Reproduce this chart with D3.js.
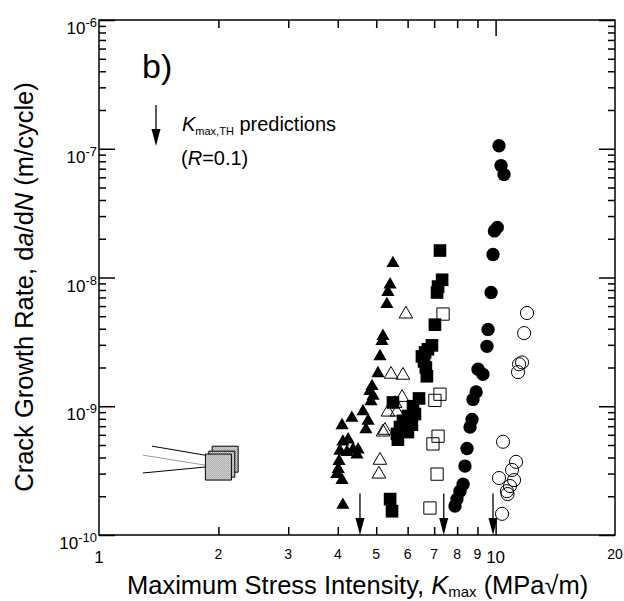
<!DOCTYPE html>
<html lang="en">
<head>
<meta charset="utf-8">
<title>Crack growth rate vs Kmax</title>
<script src="https://d3js.org/d3.v7.min.js"></script>
<style>
  body { margin: 0; background: #fff; }
  svg { display: block; font-family: Arial, "Liberation Sans", sans-serif; }
</style>
</head>
<body>
<svg width="624" height="601"></svg>
<script>
// data: [Kmax (MPa√m), da/dN (m/cycle)]
const filledTriangles = [
  [5.51,1.29e-8],[5.42,8.8e-9],[5.35,7.7e-9],[5.32,6.2e-9],[5.20,3.5e-9],[5.17,3.2e-9],
  [5.11,2.44e-9],[5.05,1.80e-9],[4.88,1.43e-9],[4.82,1.31e-9],[4.91,1.20e-9],[4.85,1.09e-9],
  [4.63,9.1e-10],[4.34,8.1e-10],[4.10,7.1e-10],[4.77,7.7e-10],[4.71,6.6e-10],[4.25,5.5e-10],
  [4.12,5.3e-10],[4.05,4.5e-10],[4.37,4.6e-10],[4.50,4.6e-10],[4.47,4.2e-10],[4.22,4.4e-10],
  [4.03,3.75e-10],[4.01,3.25e-10],[3.98,2.97e-10],[4.10,2.67e-10],[4.12,1.71e-10]
];
const openTriangles = [
  [5.94,5.2e-9],[5.45,1.77e-9],[5.84,1.74e-9],[5.81,1.17e-9],[5.58,1.05e-9],[5.35,9.0e-10],
  [5.64,9.0e-10],[5.20,6.3e-10],[5.26,6.5e-10],[5.11,3.8e-10],[5.08,2.97e-10]
];
const filledSquares = [
  [7.24,1.62e-8],[7.33,9.6e-9],[7.16,8.5e-9],[7.12,7.65e-9],[7.03,4.3e-9],[6.91,2.97e-9],
  [6.75,2.77e-9],[6.64,2.62e-9],[6.52,2.44e-9],[6.60,2.23e-9],[6.67,2.0e-9],[6.71,1.71e-9],
  [6.41,1.15e-9],[6.19,1.0e-9],[5.51,1.07e-9],[6.26,8.7e-10],[6.01,8.4e-10],[5.84,7.7e-10],
  [5.74,6.9e-10],[5.64,6.1e-10],[6.01,6.3e-10],[5.67,5.5e-10],[6.15,7.2e-10],
  [5.42,1.90e-10],[5.48,1.53e-10]
];
const openSquares = [
  [7.37,5.2e-9],[7.24,1.24e-9],[7.03,1.11e-9],[7.16,5.85e-10],[6.95,5.1e-10],
  [7.12,2.97e-10],[6.83,1.62e-10]
];
const filledCircles = [
  [10.20,1.055e-7],[10.32,7.4e-8],[10.50,6.3e-8],[9.93,2.3e-8],[10.10,2.45e-8],[9.85,1.51e-8],
  [9.74,7.65e-9],[9.57,3.95e-9],[9.51,2.92e-9],[9.03,1.94e-9],[9.29,1.77e-9],[8.93,1.29e-9],
  [8.77,1.13e-9],[8.72,7.9e-10],[8.62,6.9e-10],[8.47,4.7e-10],[8.37,3.43e-10],[8.28,2.48e-10],
  [8.13,2.19e-10],[7.99,1.90e-10],[7.90,1.68e-10]
];
const openCircles = [
  [12.0,5.3e-9],[11.8,3.7e-9],[11.66,2.19e-9],[11.46,2.12e-9],[11.39,1.84e-9],[10.44,5.3e-10],
  [11.26,3.7e-10],[11.0,3.2e-10],[11.13,2.67e-10],[10.2,2.77e-10],[10.87,2.4e-10],
  [10.68,2.19e-10],[10.72,2.08e-10],[10.38,1.46e-10]
];
// small-crack data near K = 2 (back to front)
const graySquares = [[2.08,3.88e-10],[2.04,3.55e-10],[2.00,3.37e-10]];
const smallCrackLines = [
  [[1.36,4.9e-10],[1.85,4.17e-10]],
  [[1.29,4.17e-10],[1.85,3.49e-10]],
  [[1.29,3.03e-10],[1.85,3.37e-10]]
];
// Kmax,TH predictions (arrows)
const thresholdK = [4.55, 7.4, 9.85];

const xTickLabels = [1,2,3,4,5,6,7,8,9,10,20];
const yTickExps = [-6,-7,-8,-9,-10];

const svg = d3.select("svg");

// halftone fill for the gray squares
const pat = svg.append("defs").append("pattern")
   .attr("id", "halftone").attr("patternUnits", "userSpaceOnUse")
   .attr("width", 2).attr("height", 2);
pat.append("rect").attr("width", 2).attr("height", 2).attr("fill", "#eee");
pat.append("rect").attr("width", 1).attr("height", 1).attr("fill", "#888");
pat.append("rect").attr("x", 1).attr("y", 1).attr("width", 1).attr("height", 1).attr("fill", "#999");

const x = d3.scaleLog().domain([1, 20]).range([99, 615]);
const y = d3.scaleLog().domain([1e-10, 1e-6]).range([535, 20]);

// ticks (all pointing inward)
const xMinor = [2,3,4,5,6,7,8,9];
const xMajor = [10];
const yMajor = yTickExps.map(e => Math.pow(10, e));
const yMinor = [];
for (let e = -10; e < -6; e++) {
  for (let m = 2; m <= 9; m++) yMinor.push(m * Math.pow(10, e));
}

function ticksOnly(g) {
  g.select(".domain").remove();
  g.selectAll("text").remove();
  g.selectAll(".tick line").attr("stroke", "#000").attr("stroke-width", 1.5);
}

function addAxis(axis, tx, ty) {
  svg.append("g").attr("transform", `translate(${tx},${ty})`).call(axis).call(ticksOnly);
}
addAxis(d3.axisBottom(x).tickValues(xMinor).tickSize(-8), 0, 535);
addAxis(d3.axisBottom(x).tickValues(xMajor).tickSize(-16), 0, 535);
addAxis(d3.axisTop(x).tickValues(xMinor).tickSize(-8), 0, 20);
addAxis(d3.axisTop(x).tickValues(xMajor).tickSize(-16), 0, 20);
addAxis(d3.axisLeft(y).tickValues(yMinor).tickSize(-7), 99, 0);
addAxis(d3.axisLeft(y).tickValues(yMajor).tickSize(-16), 99, 0);
addAxis(d3.axisRight(y).tickValues(yMinor).tickSize(-7), 615, 0);
addAxis(d3.axisRight(y).tickValues(yMajor).tickSize(-16), 615, 0);

// frame
svg.append("rect")
   .attr("x", 99).attr("y", 20)
   .attr("width", 615 - 99).attr("height", 535 - 20)
   .attr("fill", "none").attr("stroke", "#000").attr("stroke-width", 1.5);

// tick labels
svg.selectAll(".xlab").data(xTickLabels).enter().append("text")
   .attr("class", "xlab")
   .attr("x", d => x(d))
   .attr("y", d => (d === 1 || d === 10) ? 563 : 559)
   .attr("text-anchor", "middle")
   .attr("font-size", d => (d === 1 || d === 10) ? 17 : 14)
   .text(d => d);

const ylab = svg.selectAll(".ylab").data(yTickExps).enter().append("text")
   .attr("class", "ylab")
   .attr("x", 97)
   .attr("y", d => y(Math.pow(10, d)) + 14)
   .attr("text-anchor", "end")
   .attr("font-size", 17);
ylab.append("tspan").text("10");
ylab.append("tspan").attr("dy", -7).attr("font-size", 13).text(d => d);

// axis titles
const xt = svg.append("text").attr("x", 127).attr("y", 594).attr("font-size", 25.5);
xt.append("tspan").text("Maximum Stress Intensity, ");
xt.append("tspan").attr("font-style", "italic").text("K");
xt.append("tspan").attr("font-size", 15).attr("dy", 3).text("max");
xt.append("tspan").attr("dy", -3).text(" (MPa\u221Am)");

const yt = svg.append("text")
   .attr("transform", "translate(33,287) rotate(-90)")
   .attr("text-anchor", "middle")
   .attr("font-size", 25.5);
yt.append("tspan").text("Crack Growth Rate, d");
yt.append("tspan").attr("font-style", "italic").text("a");
yt.append("tspan").text("/d");
yt.append("tspan").attr("font-style", "italic").text("N");
yt.append("tspan").text(" (m/cycle)");

// panel label
svg.append("text").attr("x", 142).attr("y", 78).attr("font-size", 34).text("b)");

// legend arrow + text
const arrowHead = (cx, tipY) => `M${cx},${tipY} L${cx - 4.5},${tipY - 17} L${cx + 4.5},${tipY - 17} Z`;
svg.append("line").attr("x1", 156).attr("x2", 156).attr("y1", 105).attr("y2", 132)
   .attr("stroke", "#000").attr("stroke-width", 1.3);
svg.append("path").attr("d", arrowHead(156, 146)).attr("fill", "#000");

const lg1 = svg.append("text").attr("x", 182).attr("y", 131).attr("font-size", 20);
lg1.append("tspan").attr("font-style", "italic").text("K");
lg1.append("tspan").attr("font-size", 11).attr("dy", 4).text("max,TH");
lg1.append("tspan").attr("dy", -4).text(" predictions");
const lg2 = svg.append("text").attr("x", 181).attr("y", 165).attr("font-size", 20);
lg2.append("tspan").text("(");
lg2.append("tspan").attr("font-style", "italic").text("R");
lg2.append("tspan").text("=0.1)");

// small-crack lines and gray squares
const lineStyles = ["#000", "#999", "#000"];
const line = d3.line().x(d => x(d[0])).y(d => y(d[1]));
svg.selectAll(".scl").data(smallCrackLines).enter().append("path")
   .attr("class", "scl")
   .attr("d", line)
   .attr("fill", "none")
   .attr("stroke", (d, i) => lineStyles[i])
   .attr("stroke-width", 1);

const sym = (type, size) => d3.symbol().type(type).size(size)();

svg.selectAll(".gsq").data(graySquares).enter().append("path")
   .attr("class", "gsq")
   .attr("transform", d => `translate(${x(d[0])},${y(d[1])})`)
   .attr("d", sym(d3.symbolSquare, 26 * 26))
   .attr("fill", "url(#halftone)")
   .attr("stroke", "#000")
   .attr("stroke-width", 1);

// scatter series
function drawSeries(data, type, size, filled) {
  svg.append("g").selectAll("path").data(data).enter().append("path")
     .attr("transform", d => `translate(${x(d[0])},${y(d[1])})`)
     .attr("d", sym(type, size))
     .attr("fill", filled ? "#000" : "none")
     .attr("stroke", "#000")
     .attr("stroke-width", filled ? 0 : 1);
}
drawSeries(openTriangles, d3.symbolTriangle, 80, false);
drawSeries(openSquares, d3.symbolSquare, 150, false);
drawSeries(openCircles, d3.symbolCircle, 135, false);
drawSeries(filledTriangles, d3.symbolTriangle, 75, true);
drawSeries(filledSquares, d3.symbolSquare, 160, true);
drawSeries(filledCircles, d3.symbolCircle, 140, true);

// threshold arrows on the K axis
thresholdK.forEach(k => {
  const cx = x(k);
  svg.append("line").attr("x1", cx).attr("x2", cx)
     .attr("y1", y(2.1e-10)).attr("y2", 522)
     .attr("stroke", "#000").attr("stroke-width", 1.3);
  svg.append("path").attr("d", arrowHead(cx, 535)).attr("fill", "#000");
});
</script>
</body>
</html>
